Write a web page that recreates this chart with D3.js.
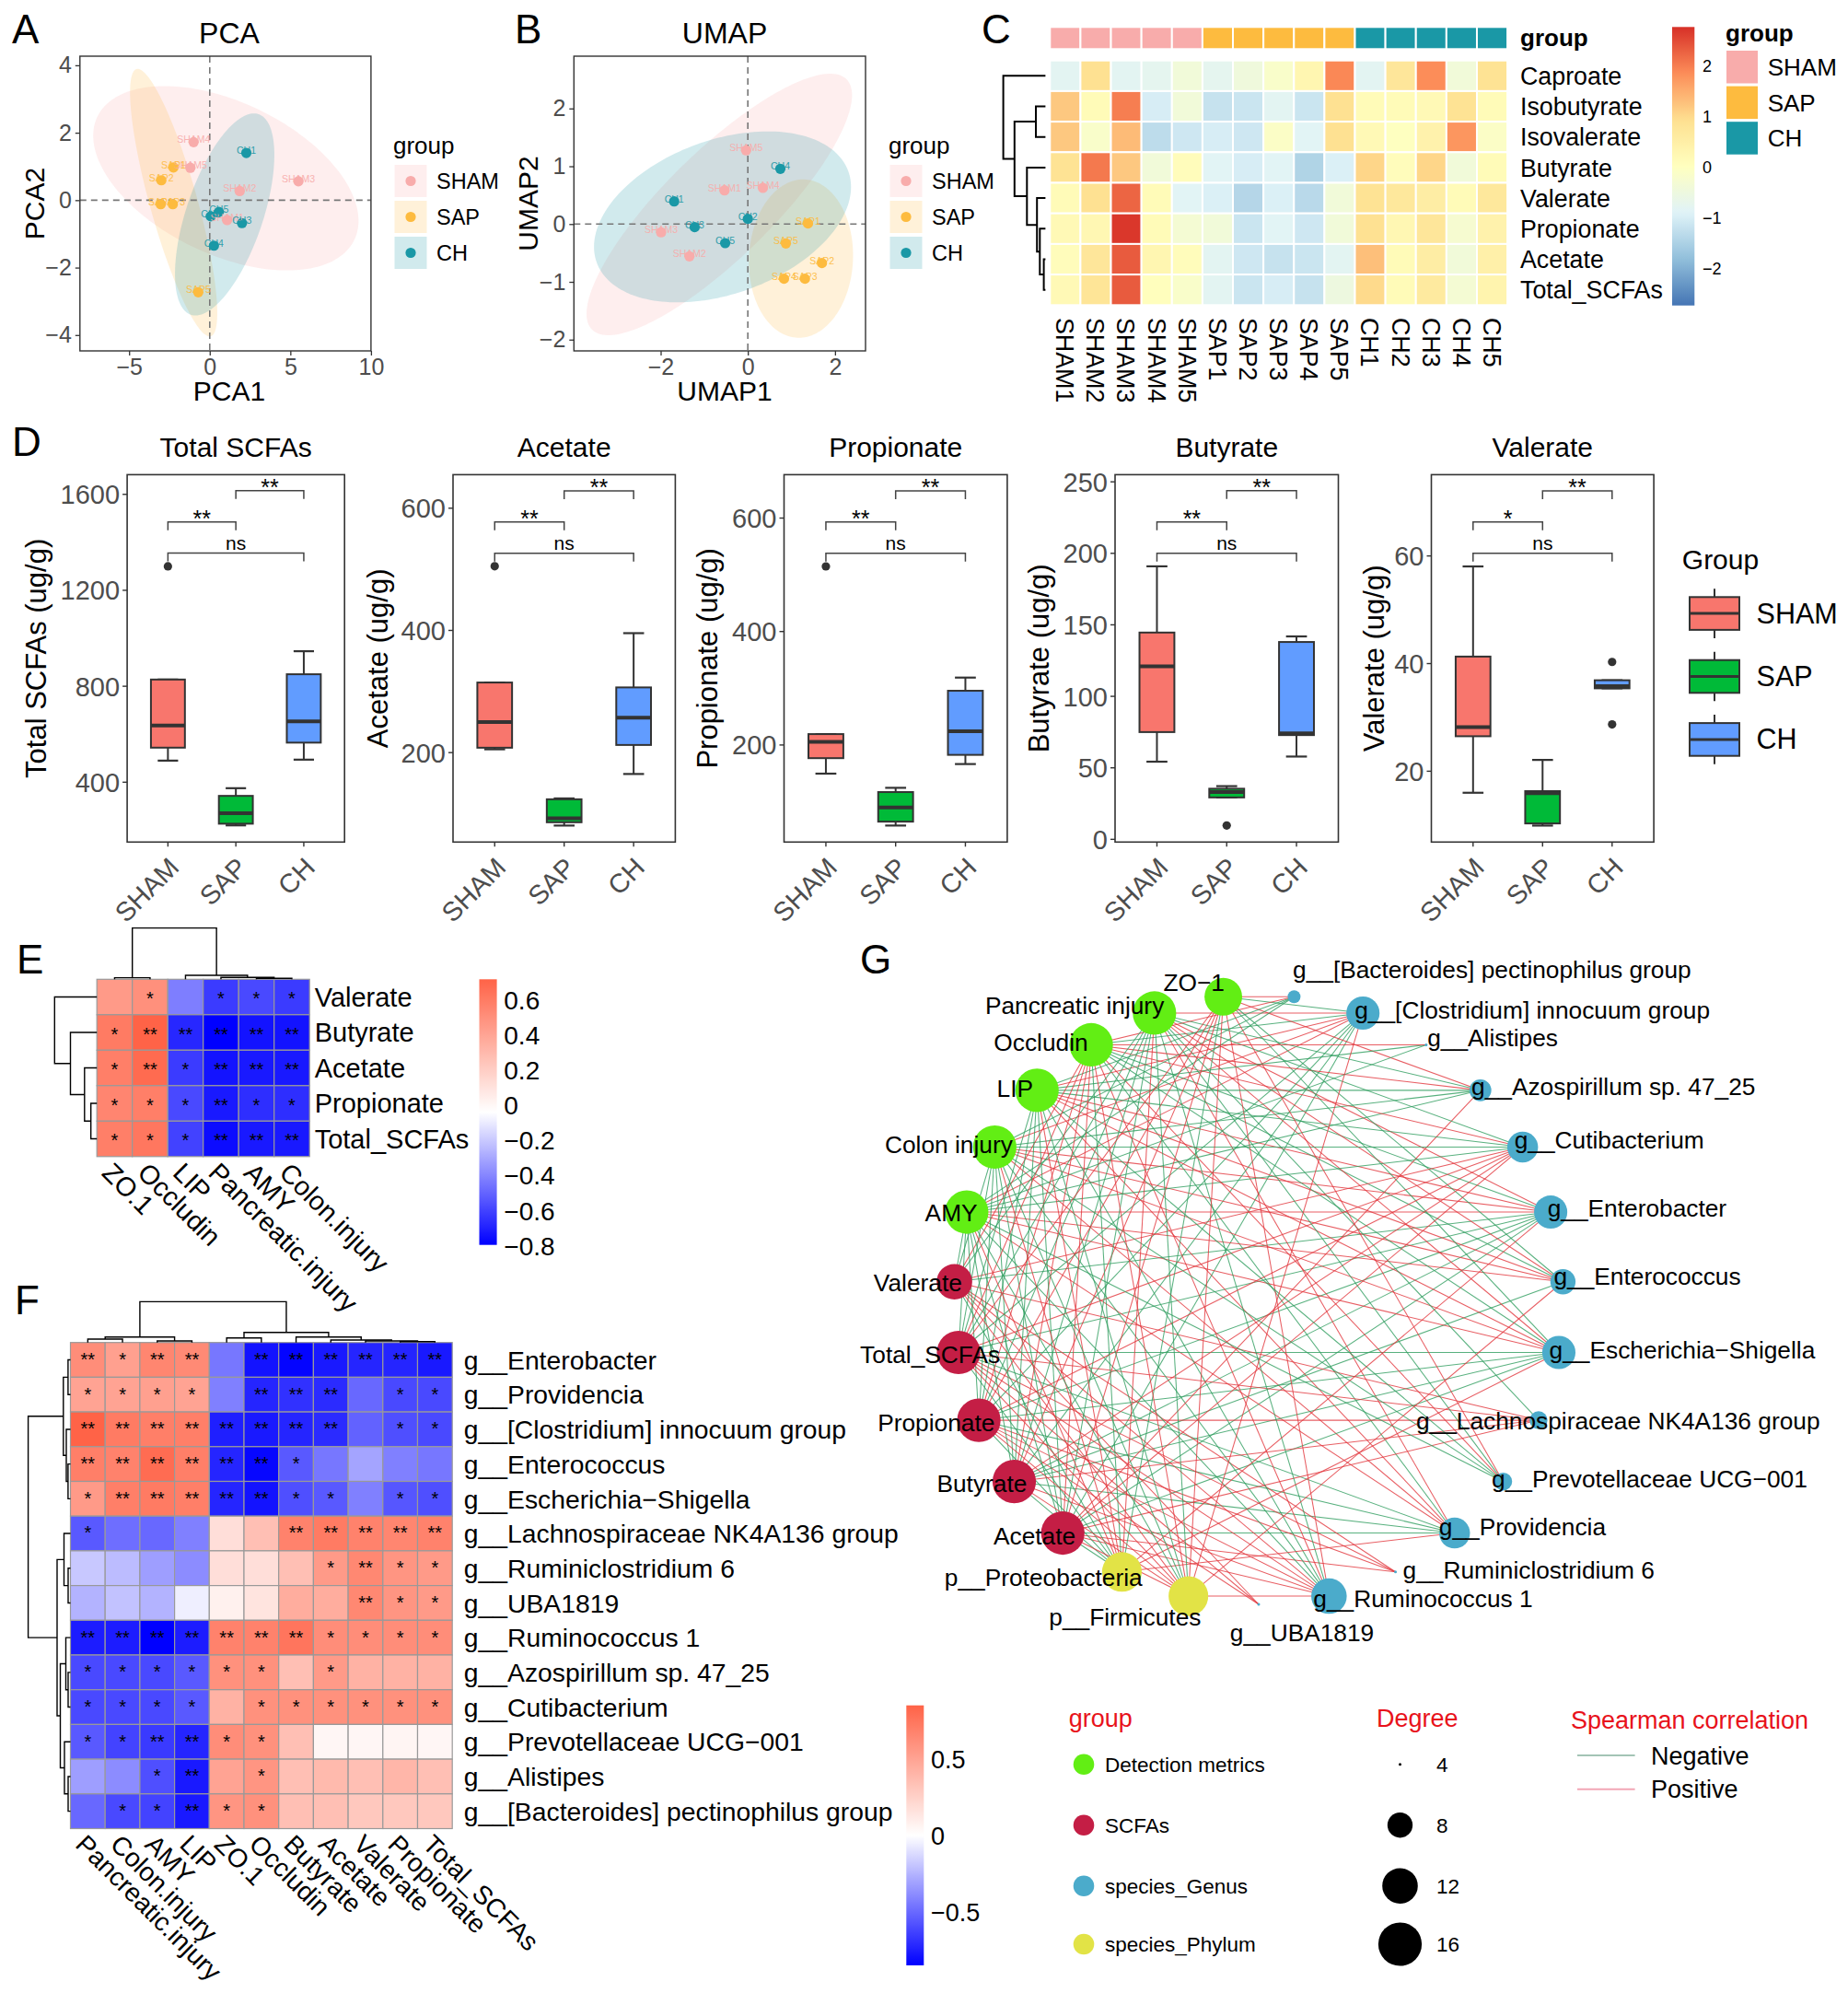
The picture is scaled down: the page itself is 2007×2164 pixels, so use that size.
<!DOCTYPE html>
<html><head><meta charset="utf-8">
<script src="https://cdn.jsdelivr.net/npm/d3@7/dist/d3.min.js"></script>
<style>
html,body{margin:0;padding:0;background:#fff;}
svg text{font-family:"Liberation Sans",Arial,Helvetica,sans-serif;}
</style></head><body>
<svg id="fig" width="2007" height="2164" xmlns="http://www.w3.org/2000/svg"></svg>
<script>
// ================= DATA =================
const groupNames = ["SHAM","SAP","CH"];
const sampleNames = ["SHAM1","SHAM2","SHAM3","SHAM4","SHAM5","SAP1","SAP2","SAP3","SAP4","SAP5","CH1","CH2","CH3","CH4","CH5"];
const sampleGroup = [0,0,0,0,0,1,1,1,1,1,2,2,2,2,2];
// Panel A (PCA)
const pcaX = [1.08,1.86,5.5,-1.0,-1.2,-2.25,-3.0,-2.29,-3.04,-0.71,2.27,0.06,2.0,0.26,0.57];
const pcaY = [-0.59,0.27,0.56,1.72,0.96,0.97,0.59,-0.12,-0.12,-2.73,1.40,-0.48,-0.68,-1.35,-0.35];
// ellipse: centre x, centre y, conjugate axis u (x,y), conjugate axis v (x,y) in data units
const pcaEllipses = [[1.0,0.65,7.97,-1.825,-2.04,-2.035],[-2.237,-0.074,2.30,-3.962,-1.422,-0.188],[0.927,-0.4235,2.10,2.974,2.254,-0.363]];
const pcaXDomain = [-8.05,10.0], pcaYDomain = [-4.47,4.27];
const pcaXTicks = [-5,0,5,10], pcaYTicks = [-4,-2,0,2,4];
// Panel B (UMAP)
const umapX = [-0.535,-1.34,-1.99,0.345,-0.04,1.38,1.70,1.31,0.83,0.873,-1.69,0.0,-1.22,0.746,-0.52];
const umapY = [0.583,-0.558,-0.143,0.626,1.275,0.01,-0.675,-0.946,-0.946,-0.335,0.392,0.09,-0.054,0.956,-0.33];
const umapEllipses = [[-0.655,0.339,2.922,2.164,0.858,-0.660],[1.219,-0.598,0.0845,1.370,1.192,-0.041],[-0.581,0.124,2.886,0.790,0.602,-1.251]];
const umapXDomain = [-3.99,2.70], umapYDomain = [-2.195,2.905];
const umapXTicks = [-2,0,2], umapYTicks = [-2,-1,0,1,2];
// Panel C (z-score heatmap)
const scfaRows = ["Caproate","Isobutyrate","Isovalerate","Butyrate","Valerate","Propionate","Acetate","Total_SCFAs"];
const zScores = [
 [-0.8,0.9,-0.8,-0.75,-0.4,-0.75,-0.45,-0.15,0.3,1.9,-0.8,0.75,1.85,-0.4,0.85],
 [1.2,0.15,2.0,-1.0,-0.4,-1.2,-1.15,-0.8,-1.15,0.9,0.15,0.15,0.2,0.85,0.15],
 [1.2,-0.15,1.35,-1.3,-1.1,-1.0,-1.1,-0.1,-0.85,0.9,0.2,0.0,0.4,1.75,-0.1],
 [0.85,2.05,1.2,-0.4,0.1,-0.85,-1.0,-0.85,-1.45,-0.95,1.05,0.1,1.05,-0.4,0.15],
 [0.15,0.9,2.25,0.15,-0.85,-0.95,-1.4,-0.95,-1.35,-0.4,0.85,0.7,0.55,0.15,0.7],
 [0.2,0.25,2.7,0.15,-0.3,-0.4,-1.15,-0.85,-1.1,-0.4,0.9,0.25,0.75,-0.25,0.4],
 [0.1,0.75,2.35,0.3,0.1,-0.8,-1.1,-1.2,-1.15,-0.8,1.3,0.15,0.55,-0.4,0.45],
 [0.2,0.8,2.35,0.05,-0.15,-0.8,-1.15,-1.0,-1.2,-0.5,1.0,0.15,0.65,-0.3,0.35]];
const zLegendRange = [-2.73,2.77];
const zLegendTicks = [-2,-1,0,1,2];
const cRowTree = ["Caproate",[["Isobutyrate","Isovalerate",10.4],["Butyrate",["Valerate",["Propionate",["Acetate","Total_SCFAs",1.8],6.1],9.2],20.1],33.6],45.8];
// Panel D (boxplots): [lower whisker, Q1, median, Q3, upper whisker]
const scfaTitles = ["Total SCFAs","Acetate","Propionate","Butyrate","Valerate"];
const scfaYLabels = ["Total SCFAs (ug/g)","Acetate (ug/g)","Propionate (ug/g)","Butyrate (ug/g)","Valerate (ug/g)"];
const boxStats = [
 [[490,544,636,828,828],[220,227,271,343,375],[494,565,654,850,946]],
 [[205.4,208,250,314.7,314.7],[80.6,86,92.4,123.6,125],[165,212.5,257,306.7,395.5]],
 [[149.5,176.8,205.7,219.2,219.2],[58,64.9,89.8,117,124.5],[166.4,182.6,224.3,295.6,318.8]],
 [[54.3,75,120.9,144.6,190.9],[29.3,29.3,33.1,35.4,37.2],[57.9,72.9,74.1,138,141.9]],
 [[16.0,26.5,28.2,41.3,58.05],[9.9,10.3,15.9,16.3,22.1],[35.4,35.4,35.8,36.9,36.9]]];
const boxOutliers = [[[1300],[],[]],[[505],[],[]],[[514.8],[],[]],[[],[9.7],[]],[[],[],[40.3,28.7]]];
const boxYDomains = [[150.5,1682],[53.6,654.9],[28.9,676.5],[-1.9,255],[6.84,75.1]];
const boxYTicks = [[400,800,1200,1600],[200,400,600],[200,400,600],[0,50,100,150,200,250],[20,40,60]];
const sigPairs = [[0,1],[1,2],[0,2]];
const sigY = [[1485,1615,1355],[577.4,628.5,526.3],[593,648,538],[222,243.8,200],[66.3,72.1,60.5]];
const sigLabels = [["**","**","ns"],["**","**","ns"],["**","**","ns"],["**","**","ns"],["*","**","ns"]];
// Panel E (SCFA vs detection metrics)
const eRows = ["Valerate","Butyrate","Acetate","Propionate","Total_SCFAs"];
const eCols = ["ZO.1","Occludin","LIP","Pancreatic.injury","AMY","Colon.injury"];
const eVals = [
 [0.45,0.5,-0.42,-0.62,-0.58,-0.62],
 [0.6,0.717,-0.68,-0.795,-0.74,-0.74],
 [0.58,0.68,-0.62,-0.74,-0.72,-0.72],
 [0.55,0.58,-0.58,-0.72,-0.66,-0.66],
 [0.58,0.62,-0.6,-0.76,-0.72,-0.72]];
const eMarks = [
 ["","*","","*","*","*"],
 ["*","**","**","**","**","**"],
 ["*","**","*","**","**","**"],
 ["*","*","*","**","*","*"],
 ["*","*","*","**","**","**"]];
const eLegendRange = [-0.795,0.717];
const eLegendTicks = [0.6,0.4,0.2,0,-0.2,-0.4,-0.6,-0.8];
const eRowTree = ["Valerate",["Butyrate",["Acetate",["Propionate","Total_SCFAs",6.5],13.4],28.7],45.9];
const eColTree = [["ZO.1","Occludin",1.7],["LIP",["Pancreatic.injury",["AMY","Colon.injury",1.0],2.0],4.3],55.7];
// Panel F (genera vs metrics)
const fRows = ["g__Enterobacter","g__Providencia","g__[Clostridium] innocuum group","g__Enterococcus","g__Escherichia\u2212Shigella","g__Lachnospiraceae NK4A136 group","g__Ruminiclostridium 6","g__UBA1819","g__Ruminococcus 1","g__Azospirillum sp. 47_25","g__Cutibacterium","g__Prevotellaceae UCG\u2212001","g__Alistipes","g__[Bacteroides] pectinophilus group"];
const fCols = ["Pancreatic.injury","Colon.injury","AMY","LIP","ZO.1","Occludin","Butyrate","Acetate","Valerate","Propionate","Total_SCFAs"];
const fVals = [
 [0.62,0.52,0.66,0.64,-0.45,-0.78,-0.83,-0.76,-0.72,-0.72,-0.76],
 [0.5,0.5,0.52,0.5,-0.42,-0.72,-0.68,-0.7,-0.5,-0.6,-0.6],
 [0.85,0.72,0.7,0.7,-0.74,-0.76,-0.72,-0.7,-0.52,-0.58,-0.6],
 [0.7,0.68,0.8,0.7,-0.72,-0.82,-0.55,-0.45,-0.3,-0.42,-0.45],
 [0.55,0.7,0.72,0.7,-0.72,-0.78,-0.58,-0.55,-0.42,-0.56,-0.58],
 [-0.55,-0.48,-0.5,-0.42,0.18,0.35,0.68,0.72,0.68,0.66,0.68],
 [-0.18,-0.22,-0.32,-0.38,0.18,0.18,0.35,0.55,0.65,0.58,0.55],
 [-0.25,-0.2,-0.25,-0.05,0.08,0.15,0.45,0.45,0.65,0.58,0.55],
 [-0.75,-0.75,-0.844,-0.75,0.68,0.68,0.75,0.62,0.62,0.62,0.62],
 [-0.6,-0.6,-0.6,-0.55,0.6,0.6,0.35,0.55,0.42,0.42,0.42],
 [-0.6,-0.6,-0.6,-0.55,0.42,0.6,0.6,0.6,0.6,0.6,0.6],
 [-0.55,-0.62,-0.65,-0.72,0.62,0.6,0.35,0.05,0.05,0.06,0.05],
 [-0.32,-0.38,-0.58,-0.76,0.5,0.58,0.35,0.38,0.35,0.4,0.35],
 [-0.5,-0.6,-0.62,-0.76,0.58,0.6,0.35,0.35,0.3,0.3,0.3]];
const fMarks = [
 ["**","*","**","**","","**","**","**","**","**","**"],
 ["*","*","*","*","","**","**","**","","*","*"],
 ["**","**","**","**","**","**","**","**","","*","*"],
 ["**","**","**","**","**","**","*","","","",""],
 ["*","**","**","**","**","**","*","*","","*","*"],
 ["*","","","","","","**","**","**","**","**"],
 ["","","","","","","","*","**","*","*"],
 ["","","","","","","","","**","*","*"],
 ["**","**","**","**","**","**","**","*","*","*","*"],
 ["*","*","*","*","*","*","","*","","",""],
 ["*","*","*","*","","*","*","*","*","*","*"],
 ["*","*","**","**","*","*","","","","",""],
 ["","","*","**","","*","","","","",""],
 ["","*","*","**","*","*","","","","",""]];
const fLegendRange = [-0.844,0.85];
const fLegendTicks = [0.5,0,-0.5];
const fColTree = [[["Pancreatic.injury","Colon.injury",3.7],["AMY","LIP",1.7],6.0],[["ZO.1","Occludin",5.0],["Butyrate",["Acetate",["Valerate",["Propionate","Total_SCFAs",1.0],1.7],2.7],6.0],11.0],44.3];
const fRowTree = [[["g__Enterobacter","g__Providencia",2.6],["g__[Clostridium] innocuum group",["g__Enterococcus","g__Escherichia\u2212Shigella",2.6],4.5],7.7],
  [["g__Lachnospiraceae NK4A136 group",["g__Ruminiclostridium 6","g__UBA1819",2.5],7.0],[["g__Ruminococcus 1",["g__Azospirillum sp. 47_25","g__Cutibacterium",2.5],5.0],["g__Prevotellaceae UCG\u2212001",["g__Alistipes","g__[Bacteroides] pectinophilus group",2.5],6.5],11.0],14.5],45.9];
// Panel G (network)
const netNodeNames = ["g__[Bacteroides] pectinophilus group","g__[Clostridium] innocuum group","g__Alistipes","g__Azospirillum sp. 47_25","g__Cutibacterium","g__Enterobacter","g__Enterococcus","g__Escherichia\u2212Shigella","g__Lachnospiraceae NK4A136 group","g__Prevotellaceae UCG\u2212001","g__Providencia","g__Ruminiclostridium 6","g__Ruminococcus 1","g__UBA1819","p__Firmicutes","p__Proteobacteria","Acetate","Butyrate","Propionate","Total_SCFAs","Valerate","AMY","Colon injury","LIP","Occludin","Pancreatic injury","ZO\u22121"];
const netNodeGroup = [2,2,2,2,2,2,2,2,2,2,2,2,2,2,3,3,1,1,1,1,1,0,0,0,0,0,0];
const netGroupNames = ["Detection metrics","SCFAs","species_Genus","species_Phylum"];
const phylumLinks = [
 ["p__Proteobacteria",[["Pancreatic injury",1],["Colon injury",1],["AMY",1],["LIP",1],["ZO\u22121",-1],["Occludin",-1],["Butyrate",-1],["Acetate",-1],["Valerate",-1],["Propionate",-1],["Total_SCFAs",-1],["g__Enterobacter",1],["g__Escherichia\u2212Shigella",1],["g__Providencia",1]]],
 ["p__Firmicutes",[["Pancreatic injury",-1],["Colon injury",-1],["AMY",-1],["LIP",-1],["ZO\u22121",1],["Occludin",1],["Butyrate",1],["Acetate",1],["Valerate",1],["Propionate",1],["Total_SCFAs",1],["g__[Clostridium] innocuum group",1],["g__Enterococcus",1],["g__Ruminococcus 1",1]]]];
const degreeLegend = [4,8,12,16];
const corrLegend = ["Negative","Positive"];

// ================= LAYOUT / STYLE =================
const groupColors = ["#F8ACAB","#FDBB3F","#1A98A6"];
const boxColors = ["#F8766D","#00BA38","#619CFF"];
const rdylbu = ["#4575B4","#91BFDB","#E0F3F8","#FFFFBF","#FEE090","#FC8D59","#D73027"];
const netColors = ["#62EE14","#C41E45","#4BABCB","#E2E346"];
const edgeColors = {pos:"#E2363C", neg:"#2F9E5F"};
const SERIF = "'Liberation Serif','Times New Roman',serif";
const DARK = "#333333", TICKC = "#4D4D4D";
// label nudges for the network [dx, dy, anchor]
const netLabelOffsets = [[-1.4,-20,"start"],[-9,5.7,"start"],[1.3,1.7,"start"],[-9.7,5.6,"start"],[-9,1,"start"],[-3.4,5,"start"],[-10,3.3,"start"],[-10.4,6.7,"start"],[-133,10,"start"],[-12.5,6.7,"start"],[-17,2.4,"start"],[8,7.3,"start"],[-17,12.3,"start"],[47,40,"middle"],
 [13.8,32,"end"],[22.3,15,"end"],[13.9,12.4,"end"],[13.9,11.7,"end"],[17.3,11.6,"end"],[45.1,11.7,"end"],[8.3,10,"end"],[11.7,10,"end"],[19.5,6,"end"],[-4.2,7.3,"end"],[-3.5,6.7,"end"],[10.5,1,"end"],[1.4,-6.7,"end"]];

const svg = d3.select("#fig");
svg.append("rect").attr("width",2007).attr("height",2164).attr("fill","#fff");
const defs = svg.append("defs");

function T(parent, x, y, s, size, o = {}) {
  const t = parent.append("text").attr("x", x).attr("y", y).text(s).attr("font-size", size);
  if (o.anchor) t.attr("text-anchor", o.anchor);
  t.attr("fill", o.fill || "#000");
  if (o.weight) t.attr("font-weight", o.weight);
  if (o.family) t.attr("font-family", o.family);
  if (o.dy) t.attr("dy", o.dy);
  if (o.transform) t.attr("transform", o.transform);
  return t;
}
// panel letters
[["A",13,47],["B",559,47],["C",1066,47],["D",13,494.6],["E",18,1056.7],["F",16,1426.7],["G",934,1056.7]]
  .forEach(([l,x,y]) => T(svg, x, y, l, 44, {family: SERIF}));

// ============ Scatter panels (A, B) ============
function scatterPanel(o) {
  const g = svg.append("g");
  const [fx0, fy0, fx1, fy1] = o.frame;
  const x = d3.scaleLinear().domain(o.xDomain).range([fx0, fx1]);
  const y = d3.scaleLinear().domain(o.yDomain).range([fy1, fy0]);
  defs.append("clipPath").attr("id", "clip" + o.id).append("rect")
    .attr("x", fx0).attr("y", fy0).attr("width", fx1 - fx0).attr("height", fy1 - fy0);
  const inner = g.append("g").attr("clip-path", `url(#clip${o.id})`);
  o.ellipses.forEach((e, gi) => {
    const pts = d3.range(0, 360, 2).map(a => { const t = a * Math.PI / 180;
      return [x(e[0] + e[2] * Math.cos(t) + e[4] * Math.sin(t)), y(e[1] + e[3] * Math.cos(t) + e[5] * Math.sin(t))]; });
    inner.append("path").attr("d", d3.line().curve(d3.curveLinearClosed)(pts))
      .attr("fill", groupColors[gi]).attr("fill-opacity", 0.2);
  });
  inner.append("line").attr("x1", x(0)).attr("x2", x(0)).attr("y1", fy0).attr("y2", fy1)
    .attr("stroke", "#777").attr("stroke-width", 1.6).attr("stroke-dasharray", "7,5");
  inner.append("line").attr("x1", fx0).attr("x2", fx1).attr("y1", y(0)).attr("y2", y(0))
    .attr("stroke", "#777").attr("stroke-width", 1.6).attr("stroke-dasharray", "7,5");
  o.xs.forEach((v, i) => inner.append("circle").attr("cx", x(v)).attr("cy", y(o.ys[i])).attr("r", 5.6)
    .attr("fill", groupColors[sampleGroup[i]]));
  o.xs.forEach((v, i) => T(inner, x(v), y(o.ys[i]) + 1, sampleNames[i], 10.5,
    {anchor: "middle", fill: groupColors[sampleGroup[i]]}).attr("opacity", 0.9));
  g.append("rect").attr("x", fx0).attr("y", fy0).attr("width", fx1 - fx0).attr("height", fy1 - fy0)
    .attr("fill", "none").attr("stroke", DARK).attr("stroke-width", 1.4);
  const ax = g.append("g").attr("transform", `translate(0,${fy1})`)
    .call(d3.axisBottom(x).tickValues(o.xTicks).tickSize(5).tickPadding(3).tickFormat(d3.format("d")));
  const ay = g.append("g").attr("transform", `translate(${fx0},0)`)
    .call(d3.axisLeft(y).tickValues(o.yTicks).tickSize(5).tickPadding(4).tickFormat(d3.format("d")));
  [ax, ay].forEach(a => { a.select(".domain").remove();
    a.selectAll(".tick line").attr("stroke", DARK).attr("stroke-width", 1.3);
    a.selectAll(".tick text").attr("font-size", 25).attr("fill", TICKC).attr("font-family", null); });
  T(g, o.titleX, 47, o.title, 32, {anchor: "middle"});
  T(g, o.titleX, 435, o.xLabel, 30, {anchor: "middle"});
  T(g, 0, 0, o.yLabel, 30, {anchor: "middle", transform: `translate(${o.yLabelX},221) rotate(-90)`});
  // legend
  T(g, o.legendX, 166.7, "group", 26);
  groupNames.forEach((gn, i) => {
    const ky = 179 + i * 39;
    g.append("rect").attr("x", o.legendX + 1.5).attr("y", ky).attr("width", 35).attr("height", 35)
      .attr("fill", groupColors[i]).attr("fill-opacity", 0.2);
    g.append("circle").attr("cx", o.legendX + 19).attr("cy", ky + 17.5).attr("r", 5.6).attr("fill", groupColors[i]);
    T(g, o.legendX + 47, ky + 26, gn, 23.5);
  });
}
scatterPanel({id: "A", frame: [86.8, 61, 402.9, 381], xDomain: pcaXDomain, yDomain: pcaYDomain, xs: pcaX, ys: pcaY,
  ellipses: pcaEllipses, xTicks: pcaXTicks, yTicks: pcaYTicks, title: "PCA", titleX: 249, xLabel: "PCA1", yLabel: "PCA2",
  yLabelX: 48, legendX: 427});
scatterPanel({id: "B", frame: [623.3, 61, 940, 381], xDomain: umapXDomain, yDomain: umapYDomain, xs: umapX, ys: umapY,
  ellipses: umapEllipses, xTicks: umapXTicks, yTicks: umapYTicks, title: "UMAP", titleX: 787, xLabel: "UMAP1", yLabel: "UMAP2",
  yLabelX: 584, legendX: 965});

// ============ Dendrogram helpers ============
function layoutTree(node, leafPos) {
  if (typeof node === "string") return {pos: leafPos(node), h: 0, leaf: true};
  const l = layoutTree(node[0], leafPos), r = layoutTree(node[1], leafPos);
  return {pos: (l.pos + r.pos) / 2, h: node[2], l, r};
}
function drawTree(g, t, toXY, sw) {
  if (t.leaf) return;
  const pts = [toXY(t.l.pos, t.l.h), toXY(t.l.pos, t.h), toXY(t.r.pos, t.h), toXY(t.r.pos, t.r.h)];
  g.append("path").attr("d", d3.line()(pts)).attr("fill", "none").attr("stroke", "#000").attr("stroke-width", sw);
  drawTree(g, t.l, toXY, sw); drawTree(g, t.r, toXY, sw);
}
function colorbar(g, id, x0, y0, w, h, scale, dom, ticks, fs, fmt, lx) {
  const grad = defs.append("linearGradient").attr("id", id).attr("x1", 0).attr("x2", 0).attr("y1", 1).attr("y2", 0);
  d3.range(0, 1.0001, 0.02).forEach(t => grad.append("stop").attr("offset", t).attr("stop-color", scale(dom[0] + t * (dom[1] - dom[0]))));
  g.append("rect").attr("x", x0).attr("y", y0).attr("width", w).attr("height", h).attr("fill", `url(#${id})`);
  const ys = d3.scaleLinear().domain(dom).range([y0 + h, y0]);
  ticks.forEach(v => T(g, lx, ys(v), fmt(v), fs, {dy: "0.36em"}));
}

// ============ Panel C ============
(function () {
  const g = svg.append("g");
  const x0 = 1140.3, y0 = 65.7, cw = 33.12, ch = 33.2;
  const x = d3.scaleBand().domain(sampleNames).range([x0, x0 + 15 * cw]);
  const y = d3.scaleBand().domain(scfaRows).range([y0, y0 + 8 * ch]);
  const col = d3.scaleLinear().domain(d3.range(7).map(i => zLegendRange[0] + i * (zLegendRange[1] - zLegendRange[0]) / 6)).range(rdylbu);
  sampleNames.forEach((s, j) => g.append("rect").attr("x", x(s)).attr("y", 29.3).attr("width", cw).attr("height", 24)
    .attr("fill", groupColors[sampleGroup[j]]).attr("stroke", "#fff").attr("stroke-width", 2));
  T(g, 1651, 50, "group", 26, {weight: "bold"});
  scfaRows.forEach((r, i) => sampleNames.forEach((s, j) => g.append("rect").attr("x", x(s)).attr("y", y(r))
    .attr("width", cw).attr("height", ch).attr("fill", col(zScores[i][j])).attr("stroke", "#fff").attr("stroke-width", 2)));
  scfaRows.forEach(r => T(g, 1651, y(r) + ch / 2, r, 26.8, {dy: "0.36em"}));
  sampleNames.forEach(s => T(g, 0, 0, s, 26.8, {dy: "0.36em", transform: `translate(${x(s) + cw / 2},345) rotate(90)`}));
  const tr = layoutTree(cRowTree, n => y(n) + ch / 2);
  const hs = d3.scaleLinear().domain([0, 45.8]).range([0, 45.8]);
  drawTree(g, tr, (p, h) => [1135.4 - hs(h), p], 2);
  colorbar(g, "gradC", 1816, 29.3, 24.3, 302.4, col, zLegendRange, zLegendTicks, 18, d3.format("d"), 1849);
  T(g, 1874, 45, "group", 26, {weight: "bold"});
  groupNames.forEach((gn, i) => {
    const ky = 55 + i * 38.6;
    g.append("rect").attr("x", 1875).attr("y", ky).attr("width", 34).attr("height", 35.5).attr("fill", groupColors[i]);
    T(g, 1919.7, ky + 27, gn, 26);
  });
})();

// ============ Panel D ============
const boxFrameX = [[138.1,374.2],[492,733.4],[851.5,1093.9],[1211,1453.5],[1554.5,1796.1]];
const boxYTitleX = [38.8,409.6,768.3,1127.9,1491.5];
scfaTitles.forEach((title, p) => {
  const g = svg.append("g");
  const [fx0, fx1] = boxFrameX[p], fy0 = 515.4, fy1 = 914.3;
  const x = d3.scalePoint().domain(groupNames).range([fx0, fx1]).padding(0.6);
  const step = x.step();
  const y = d3.scaleLinear().domain(boxYDomains[p]).range([fy1, fy0]);
  g.append("rect").attr("x", fx0).attr("y", fy0).attr("width", fx1 - fx0).attr("height", fy1 - fy0)
    .attr("fill", "none").attr("stroke", DARK).attr("stroke-width", 1.6);
  groupNames.forEach((gn, i) => {
    const [lw, q1, md, q3, uw] = boxStats[p][i];
    const cx = x(gn), bw = step * 0.5, cw = step * 0.3;
    [[lw, q1], [q3, uw]].forEach(([a, b]) => g.append("line").attr("x1", cx).attr("x2", cx).attr("y1", y(a)).attr("y2", y(b))
      .attr("stroke", DARK).attr("stroke-width", 2));
    [lw, uw].forEach(v => g.append("line").attr("x1", cx - cw / 2).attr("x2", cx + cw / 2).attr("y1", y(v)).attr("y2", y(v))
      .attr("stroke", DARK).attr("stroke-width", 2.2));
    g.append("rect").attr("x", cx - bw / 2).attr("y", y(q3)).attr("width", bw).attr("height", Math.max(1, y(q1) - y(q3)))
      .attr("fill", boxColors[i]).attr("stroke", DARK).attr("stroke-width", 2);
    g.append("line").attr("x1", cx - bw / 2).attr("x2", cx + bw / 2).attr("y1", y(md)).attr("y2", y(md))
      .attr("stroke", DARK).attr("stroke-width", 4);
    boxOutliers[p][i].forEach(v => g.append("circle").attr("cx", cx).attr("cy", y(v)).attr("r", 4.6).attr("fill", DARK));
  });
  sigPairs.forEach(([a, b], k) => {
    const yy = y(sigY[p][k]), xa = x(groupNames[a]), xb = x(groupNames[b]);
    g.append("path").attr("d", `M${xa},${yy + 9}V${yy}H${xb}V${yy + 9}`).attr("fill", "none")
      .attr("stroke", "#444").attr("stroke-width", 1.5);
    const lab = sigLabels[p][k], star = lab.startsWith("*");
    T(g, (xa + xb) / 2, star ? yy + 5 : yy - 4, lab, star ? 25 : 21, {anchor: "middle"});
  });
  boxYTicks[p].forEach(v => {
    g.append("line").attr("x1", fx0 - 5).attr("x2", fx0).attr("y1", y(v)).attr("y2", y(v)).attr("stroke", DARK).attr("stroke-width", 1.4);
    T(g, fx0 - 8, y(v), String(v), 29, {anchor: "end", dy: "0.36em", fill: TICKC});
  });
  groupNames.forEach(gn => {
    g.append("line").attr("x1", x(gn)).attr("x2", x(gn)).attr("y1", fy1).attr("y2", fy1 + 5).attr("stroke", DARK).attr("stroke-width", 1.4);
    T(g, 0, 0, gn, 29, {anchor: "end", dy: "0.72em", fill: TICKC, transform: `translate(${x(gn) - 1},929) rotate(-45)`});
  });
  T(g, (fx0 + fx1) / 2, 496.4, title, 30, {anchor: "middle"});
  T(g, 0, 0, scfaYLabels[p], 31, {anchor: "middle", dy: "0.36em", transform: `translate(${boxYTitleX[p]},${(fy0 + fy1) / 2}) rotate(-90)`});
});
(function () {
  const g = svg.append("g");
  T(g, 1826.8, 617.9, "Group", 30);
  groupNames.forEach((gn, i) => {
    const cy = 666.1 + i * 68.4;
    g.append("line").attr("x1", 1862).attr("x2", 1862).attr("y1", cy - 26.8).attr("y2", cy + 26.8).attr("stroke", DARK).attr("stroke-width", 2);
    g.append("rect").attr("x", 1835).attr("y", cy - 17.8).attr("width", 54).attr("height", 35.6).attr("fill", boxColors[i])
      .attr("stroke", DARK).attr("stroke-width", 2);
    g.append("line").attr("x1", 1835).attr("x2", 1889).attr("y1", cy).attr("y2", cy).attr("stroke", DARK).attr("stroke-width", 3);
    T(g, 1907.6, cy + 10.5, gn, 30.5);
  });
})();

// ============ Correlation heatmaps (E, F) ============
function corrHeat(o) {
  const g = svg.append("g");
  const x = d3.scaleBand().domain(o.cols).range([o.x0, o.x0 + o.cols.length * o.cw]);
  const y = d3.scaleBand().domain(o.rows).range([o.y0, o.y0 + o.rows.length * o.cw]);
  const mid = (o.dom[0] + o.dom[1]) / 2;
  const col = d3.scaleLinear().domain([o.dom[0], mid, o.dom[1]]).range(["#0000FF", "#FFFFFF", "#FF6347"]);
  o.rows.forEach((r, i) => o.cols.forEach((c, j) => {
    g.append("rect").attr("x", x(c)).attr("y", y(r)).attr("width", o.cw).attr("height", o.cw)
      .attr("fill", col(o.vals[i][j])).attr("stroke", "#999").attr("stroke-width", 1.2);
    if (o.marks[i][j]) T(g, x(c) + o.cw / 2, y(r) + o.cw / 2 + o.markDy, o.marks[i][j], 20, {anchor: "middle"});
  }));
  o.rows.forEach(r => T(g, o.rowLabelX, y(r) + o.cw / 2, r, o.fs, {dy: "0.36em"}));
  const yb = o.y0 + o.rows.length * o.cw;
  o.cols.forEach(c => T(g, 0, 0, c, o.fs, {dy: "0.74em", transform: `translate(${x(c) + o.cw / 2},${yb + 4}) rotate(45)`}));
  const rt = layoutTree(o.rowTree, n => y(n) + o.cw / 2);
  const ct = layoutTree(o.colTree, n => x(n) + o.cw / 2);
  const hs = d3.scaleLinear().domain([0, 1]).range([0, 1]);
  drawTree(g, rt, (p, h) => [o.x0 - hs(h), p], 1.4);
  drawTree(g, ct, (p, h) => [p, o.y0 - hs(h)], 1.4);
  colorbar(g, "grad" + o.id, o.cb[0], o.cb[1], o.cb[2], o.cb[3], col, o.dom, o.ticks, o.cbfs, d3.format(""), o.cb[4]);
}
corrHeat({id: "E", rows: eRows, cols: eCols, vals: eVals, marks: eMarks, x0: 105.2, y0: 1063.3, cw: 38.5, dom: eLegendRange,
  rowTree: eRowTree, colTree: eColTree, rowLabelX: 341.7, fs: 29, cbfs: 28, markDy: 8.6, ticks: eLegendTicks,
  cb: [520.5, 1063.3, 19.1, 288.4, 547.3]});
corrHeat({id: "F", rows: fRows, cols: fCols, vals: fVals, marks: fMarks, x0: 76.5, y0: 1457.7, cw: 37.7, dom: fLegendRange,
  rowTree: fRowTree, colTree: fColTree, rowLabelX: 503.8, fs: 28.3, cbfs: 27, markDy: 6.4, ticks: fLegendTicks,
  cb: [984.3, 1851.7, 19, 282.3, 1011]});

// ============ Panel G (network) ============
(function () {
  const g = svg.append("g");
  const netName = n => n === "ZO.1" ? "ZO\u22121" : n.replace(".injury", " injury");
  const edges = [];
  fRows.forEach((r, i) => fCols.forEach((c, j) => { if (fMarks[i][j]) edges.push([r, netName(c), Math.sign(fVals[i][j])]); }));
  eRows.forEach((r, i) => eCols.forEach((c, j) => { if (eMarks[i][j]) edges.push([r, netName(c), Math.sign(eVals[i][j])]); }));
  phylumLinks.forEach(([p, links]) => links.forEach(([t, s]) => edges.push([p, t, s])));
  const degree = {};
  netNodeNames.forEach(n => degree[n] = 0);
  edges.forEach(([a, b]) => { degree[a]++; degree[b]++; });
  const cx = 1367, cy = 1411, R = 331;
  const ang = d3.scaleLinear().domain([0, netNodeNames.length]).range([0, 2 * Math.PI]);
  const pos = {};
  netNodeNames.forEach((n, i) => { const a = ang(i + 0.5); pos[n] = [cx + R * Math.sin(a), cy - R * Math.cos(a)]; });
  const rScale = d3.scaleRadial().domain([4, 16]).range([1.5, 23.6]).clamp(true);
  edges.forEach(([a, b, s]) => g.append("line").attr("x1", pos[a][0]).attr("y1", pos[a][1]).attr("x2", pos[b][0]).attr("y2", pos[b][1])
    .attr("stroke", s > 0 ? edgeColors.pos : edgeColors.neg).attr("stroke-width", 1.05).attr("stroke-opacity", 0.8));
  netNodeNames.forEach((n, i) => g.append("circle").attr("cx", pos[n][0]).attr("cy", pos[n][1]).attr("r", rScale(degree[n]))
    .attr("fill", netColors[netNodeGroup[i]]));
  netNodeNames.forEach((n, i) => { const [dx, dy, an] = netLabelOffsets[i];
    T(g, pos[n][0] + dx, pos[n][1] + dy, n, 26.3, {anchor: an}); });
  // legends
  const RED = "#E8121B";
  T(g, 1160.7, 1875, "group", 27, {fill: RED});
  T(g, 1495, 1875, "Degree", 27, {fill: RED});
  T(g, 1706, 1876.7, "Spearman correlation", 27, {fill: RED});
  const rowsY = [1915.7, 1981.7, 2047.7, 2111];
  netGroupNames.forEach((n, i) => {
    g.append("circle").attr("cx", 1177).attr("cy", rowsY[i]).attr("r", 11.3).attr("fill", netColors[i]);
    T(g, 1200, rowsY[i] + 8, n, 22.5);
  });
  degreeLegend.forEach((d, i) => {
    g.append("circle").attr("cx", 1520.5).attr("cy", rowsY[i]).attr("r", rScale(d)).attr("fill", "#000");
    T(g, 1560, rowsY[i] + 8, String(d), 22.5);
  });
  const legLineCol = ["#A3C4B5", "#F2A7B6"];
  corrLegend.forEach((n, i) => {
    const ly = 1906 + i * 36.7;
    g.append("line").attr("x1", 1713).attr("x2", 1775.6).attr("y1", ly).attr("y2", ly).attr("stroke", legLineCol[i]).attr("stroke-width", 2);
    T(g, 1793, ly + 9.5, n, 27);
  });
})();
</script></body></html>
